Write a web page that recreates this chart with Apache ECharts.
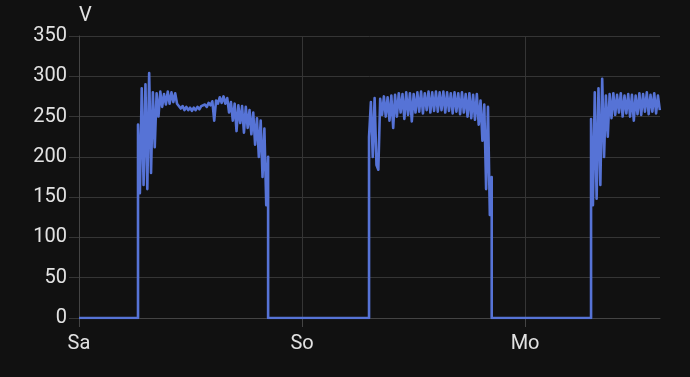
<!DOCTYPE html>
<html>
<head>
<meta charset="utf-8">
<script src="https://cdn.jsdelivr.net/npm/echarts@6/dist/echarts.min.js"></script>
<style>
html,body{margin:0;padding:0;background:#111111;}
#chart{width:690px;height:377px;}
</style>
</head>
<body>
<div id="chart"></div>
<script>
// Hours since Saturday 00:00
const dayStartHours = [6.35, 31.21, 55.1];
const stepHours = 0.2;
const xMaxHours = 62.52;
const xTickLabels = ['Sa', 'So', 'Mo'];
const yName = 'V';

// Voltage samples (V) every 0.2 h during each day's active period
const day1 = [240,155,285,165,290,160,304,180,280,212,279,250,281,262,278,265,281,266,280,268,
  279,266,268,260,263,258,262,258,261,257,261,258,262,259,263,261,265,262,267,264,
  269,245,270,266,274,267,275,266,273,255,268,245,266,232,264,242,263,230,262,236,
  258,228,255,215,248,200,245,175,235,140,200];
const day2 = [225,268,200,273,190,184,272,252,275,250,274,245,276,236,277,250,279,255,278,247,
  280,252,279,244,278,255,280,256,281,254,279,258,281,255,280,257,281,256,280,258,
  281,255,280,257,279,254,280,256,279,253,280,255,278,250,279,248,277,246,278,240,
  270,220,265,160,262,128,175];
const day3 = [247,140,280,148,285,165,297,200,276,225,278,248,279,252,277,255,279,250,276,254,
  278,250,277,245,276,253,279,252,278,256,280,253,277,256,279,254,276,258];

const days = [day1, day2, day3];
const points = [[0, 0]];
days.forEach((vals, d) => {
  const s = dayStartHours[d];
  points.push([s, 0]);
  vals.forEach((v, i) => points.push([s + i * stepHours, v]));
  if (d < days.length - 1) {
    points.push([s + (vals.length - 1) * stepHours, 0]);
  }
});

const chart = echarts.init(document.getElementById('chart'));
const textColor = '#e2e2e2';
const gridColor = '#353535';
const lineColor = '#5673d6';
chart.setOption({
  backgroundColor: '#111111',
  animation: false,
  grid: {left: 79, right: 30, top: 36, bottom: 59},
  xAxis: {
    type: 'value',
    min: 0,
    max: xMaxHours,
    interval: 24,
    axisLine: {show: true, lineStyle: {color: '#444444', width: 1}},
    axisTick: {show: true, length: 9, lineStyle: {color: '#444444'}, customValues: [0, 24, 48]},
    axisLabel: {
      color: textColor, fontFamily: 'Roboto', fontSize: 20, margin: 16,
      customValues: [0, 24, 48],
      formatter: v => { const k = Math.round(v / 24); return Math.abs(v - k * 24) < 1e-6 ? (xTickLabels[k] || '') : ''; }
    },
    splitLine: {show: true, lineStyle: {color: gridColor, width: 1}}
  },
  yAxis: {
    type: 'value',
    min: 0,
    max: 350,
    interval: 50,
    name: yName,
    nameLocation: 'end',
    nameGap: 10,
    nameTextStyle: {color: textColor, fontFamily: 'Roboto', fontSize: 20, align: 'left'},
    axisLine: {show: true, lineStyle: {color: '#444444', width: 1}},
    axisTick: {show: true, length: 10, lineStyle: {color: gridColor}},
    axisLabel: {color: textColor, fontFamily: 'Roboto', fontSize: 20, margin: 12},
    splitLine: {show: true, lineStyle: {color: gridColor, width: 1}}
  },
  series: [{
    type: 'line',
    data: points,
    showSymbol: false,
    symbol: 'none',
    sampling: null,
    lineStyle: {color: lineColor, width: 2.6, join: 'round'},
    itemStyle: {color: lineColor}
  }]
});
</script>
</body>
</html>
